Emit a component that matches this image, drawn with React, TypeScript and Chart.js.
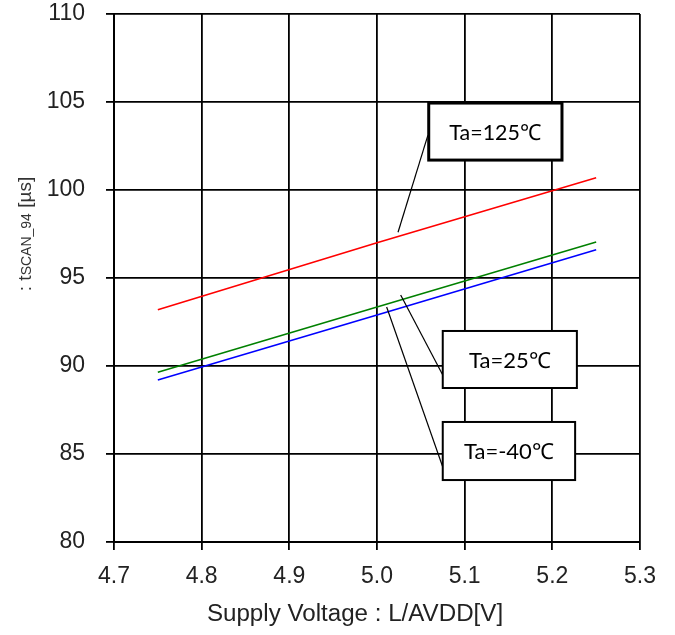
import React, { useEffect, useRef } from "react";
import { Chart, registerables } from "chart.js";

Chart.register(...registerables);

const voltages = [4.75, 5.0, 5.25];
const ta125 = [93.2, 97.0, 100.7];
const ta25 = [89.65, 93.35, 97.05];
const taM40 = [89.2, 92.9, 96.6];

const seriesLabels = ["Ta=125℃", "Ta=25℃", "Ta=-40℃"];
const seriesColors = ["#FF0000", "#008000", "#0000FF"];

const xTitle = "Supply Voltage : L/AVDD[V]";

// callout boxes in data units: [x1, x2, yTop, yBottom], leader [xFrom, yFrom, xTo, yTo]
const calloutBoxes = [
  { text: "Ta=125℃", box: [5.059, 5.211, 104.94, 101.7], leader: [5.058, 103.1, 5.024, 97.6], border: 3 },
  { text: "Ta=25℃", box: [5.075, 5.228, 91.99, 88.75], leader: [5.075, 89.49, 5.027, 94.03], border: 2 },
  { text: "Ta=-40℃", box: [5.075, 5.226, 86.82, 83.52], leader: [5.075, 84.26, 5.011, 93.35], border: 2 },
];

const overlayPlugin = {
  id: "overlay",
  afterDraw(chart: any) {
    const ctx = chart.ctx;
    const xs = chart.scales.x;
    const ys = chart.scales.y;
    ctx.save();
    for (const c of calloutBoxes) {
      const [lx1, ly1, lx2, ly2] = c.leader;
      ctx.beginPath();
      ctx.strokeStyle = "#000";
      ctx.lineWidth = 1.2;
      ctx.moveTo(xs.getPixelForValue(lx1), ys.getPixelForValue(ly1));
      ctx.lineTo(xs.getPixelForValue(lx2), ys.getPixelForValue(ly2));
      ctx.stroke();
      const x1 = xs.getPixelForValue(c.box[0]);
      const x2 = xs.getPixelForValue(c.box[1]);
      const y1 = ys.getPixelForValue(c.box[2]);
      const y2 = ys.getPixelForValue(c.box[3]);
      ctx.fillStyle = "#fff";
      ctx.fillRect(x1, y1, x2 - x1, y2 - y1);
      ctx.lineWidth = c.border;
      ctx.strokeStyle = "#000";
      ctx.strokeRect(x1, y1, x2 - x1, y2 - y1);
      ctx.fillStyle = "#000";
      ctx.font = "22px Lato, 'Open Sans', sans-serif";
      ctx.textAlign = "center";
      ctx.textBaseline = "middle";
      ctx.fillText(c.text, (x1 + x2) / 2, (y1 + y2) / 2 + 1, 92);
    }
    // y title (rotated)
    ctx.translate(25, 234);
    ctx.rotate(-Math.PI / 2);
    const parts = [
      { t: ": t", f: "19px 'Liberation Sans', Arial, sans-serif" },
      { t: "SCAN_94", f: "14px 'Liberation Sans', Arial, sans-serif" },
      { t: " [µs]", f: "19px 'Liberation Sans', Arial, sans-serif" },
    ];
    let total = 0;
    for (const p of parts) {
      ctx.font = p.f;
      total += ctx.measureText(p.t).width;
    }
    let cx = -total / 2;
    ctx.fillStyle = "#333";
    ctx.textAlign = "left";
    ctx.textBaseline = "alphabetic";
    for (const p of parts) {
      ctx.font = p.f;
      ctx.fillText(p.t, cx, 6);
      cx += ctx.measureText(p.t).width;
    }
    ctx.setTransform(1, 0, 0, 1, 0, 0);
    // x title (slightly wide, like the reference)
    ctx.translate(355, 615);
    ctx.scale(1.05, 1);
    ctx.font = "23px 'Liberation Sans', Arial, sans-serif";
    ctx.fillStyle = "#222";
    ctx.textAlign = "center";
    ctx.textBaseline = "middle";
    ctx.fillText(xTitle, 0, 0);
    ctx.setTransform(1, 0, 0, 1, 0, 0);
    ctx.restore();
  },
};

export default function App() {
  const ref = useRef<HTMLCanvasElement>(null);
  useEffect(() => {
    if (!ref.current) return;
    const series = [ta125, ta25, taM40];
    const chart = new Chart(ref.current, {
      type: "line",
      data: {
        datasets: series.map((s, i) => ({
          label: seriesLabels[i],
          data: voltages.map((v, j) => ({ x: v, y: s[j] })),
          borderColor: seriesColors[i],
          borderWidth: 1.6,
          pointRadius: 0,
          fill: false,
          tension: 0,
        })),
      },
      options: {
        animation: false,
        responsive: false,
        devicePixelRatio: 1,
        layout: { padding: { top: 14, right: 35, left: 0, bottom: 0 } },
        plugins: { legend: { display: false }, tooltip: { enabled: false } },
        scales: {
          x: {
            type: "linear",
            min: 4.7,
            max: 5.3,
            afterFit: (s: any) => { s.height = 93; s.paddingLeft = 0; s.paddingRight = 0; },
            ticks: {
              stepSize: 0.1,
              callback: (v: any) => Number(v).toFixed(1),
              color: "#222",
              font: { family: "'Liberation Sans', Arial, sans-serif", size: 23 },
              padding: 13,
              maxRotation: 0,
            },
            grid: { color: "#000", lineWidth: 1.8, tickLength: 8, tickColor: "#000", tickWidth: 1.8 },
            border: { display: true, color: "#000", width: 2 },
          },
          y: {
            type: "linear",
            min: 80,
            max: 110,
            afterFit: (s: any) => { s.width = 114; s.paddingTop = 0; s.paddingBottom = 0; },
            ticks: {
              stepSize: 5,
              color: "#222",
              font: { family: "'Liberation Sans', Arial, sans-serif", size: 23 },
              padding: 21,
            },
            grid: { color: "#000", lineWidth: 1.8, tickLength: 8, tickColor: "#000", tickWidth: 1.8 },
            border: { display: true, color: "#000", width: 2 },
          },
        },
      },
      plugins: [overlayPlugin],
    });
    return () => chart.destroy();
  }, []);
  return (
    <div style={{ position: "fixed", left: 0, top: 0, width: 675, height: 635, background: "#fff" }}>
      <canvas ref={ref} width={675} height={635} style={{ width: 675, height: 635 }} />
    </div>
  );
}
